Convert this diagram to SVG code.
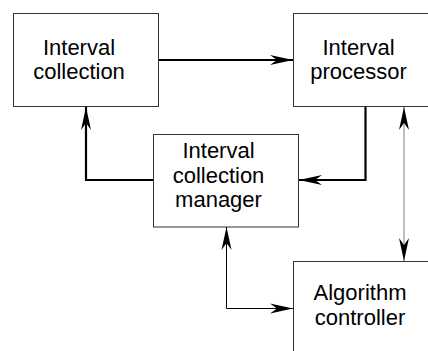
<svg xmlns="http://www.w3.org/2000/svg" width="428" height="351" viewBox="0 0 428 351">
  <style>
    .box { fill: #ffffff; stroke: #333333; stroke-width: 1; }
    .lbl { font-family: "Liberation Sans", Arial, sans-serif; font-size: 22px; fill: #000000; text-anchor: middle; }
    .thick { fill: none; stroke: #000000; stroke-width: 2.2; }
    .thin { fill: none; stroke: #000000; stroke-width: 1; }
    .thin-gray { fill: none; stroke: #808080; stroke-width: 1; }
  </style>
  <defs>
    <marker id="arrow" markerUnits="userSpaceOnUse" viewBox="-23 -6 24 12" refX="0" refY="0" markerWidth="24" markerHeight="12" orient="auto-start-reverse">
      <path d="M0,0 L-23,-5 L-16,0 L-23,5 Z" fill="#000000"/>
    </marker>
  </defs>

  <rect width="428" height="351" fill="#ffffff"/>

  <g id="interval-collection">
    <rect class="box" x="13.5" y="13.5" width="145" height="93"/>
    <text class="lbl" x="79" y="54.5">Interval</text>
    <text class="lbl" x="79" y="79">collection</text>
  </g>

  <g id="interval-processor">
    <rect class="box" x="293.5" y="13.5" width="150" height="93"/>
    <text class="lbl" x="358.5" y="54.5">Interval</text>
    <text class="lbl" x="358.5" y="79">processor</text>
  </g>

  <g id="interval-collection-manager">
    <rect class="box" x="153.5" y="134.5" width="145" height="92.5"/>
    <text class="lbl" x="218.5" y="157.5">Interval</text>
    <text class="lbl" x="218.5" y="182.5">collection</text>
    <text class="lbl" x="218.5" y="207">manager</text>
  </g>

  <g id="algorithm-controller">
    <rect class="box" x="293.5" y="261.5" width="150" height="100"/>
    <text class="lbl" x="360" y="300">Algorithm</text>
    <text class="lbl" x="360" y="325">controller</text>
  </g>

  <g id="connectors">
    <path class="thick" d="M159,60 H293" marker-end="url(#arrow)"/>
    <path class="thick" d="M153,180 H86 V107" marker-end="url(#arrow)"/>
    <path class="thick" d="M365.5,107 V180 H299" marker-end="url(#arrow)"/>
    <path class="thin-gray" d="M404,107 V261" marker-start="url(#arrow)" marker-end="url(#arrow)"/>
    <path class="thin" d="M226.5,227 V308.5 H293" marker-start="url(#arrow)" marker-end="url(#arrow)"/>
  </g>
</svg>
